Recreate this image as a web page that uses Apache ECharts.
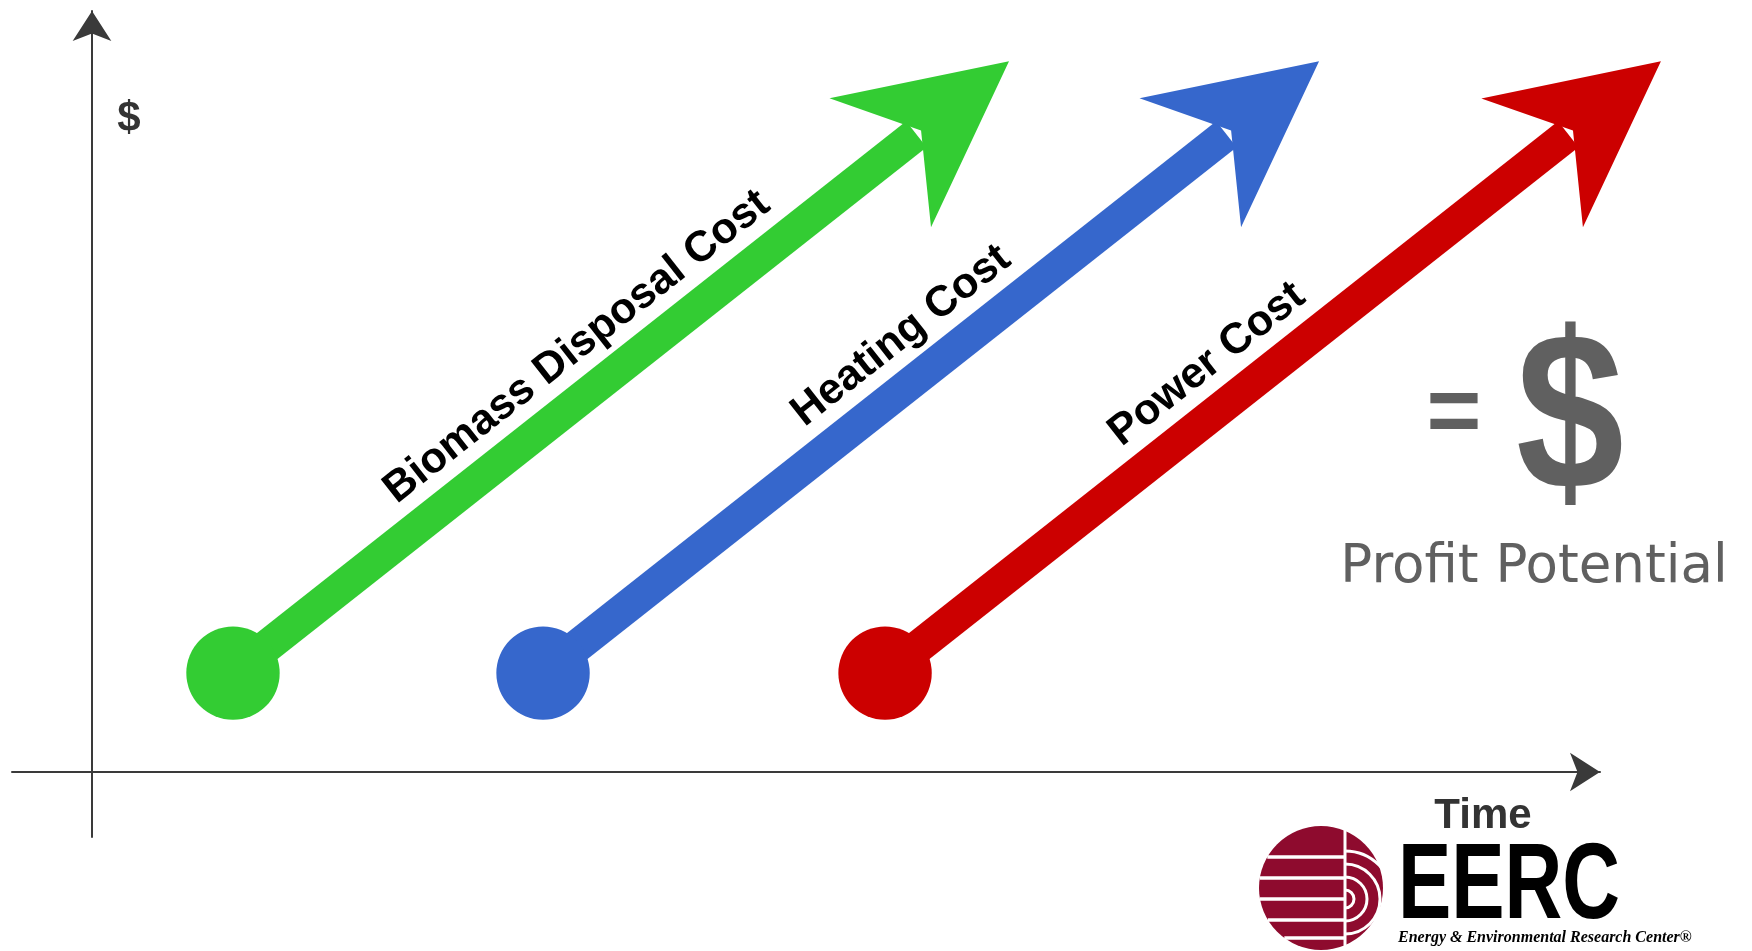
<!DOCTYPE html>
<html><head><meta charset="utf-8">
<script src="https://cdn.jsdelivr.net/npm/echarts@6/dist/echarts.min.js"></script>
<style>html,body{margin:0;padding:0;background:#fff}#c{width:1752px;height:951px}</style>
</head><body><div id="c"></div>
<script>
// ---- data ----
const categories = ['Biomass Disposal Cost', 'Heating Cost', 'Power Cost'];
const startTime = [0.935, 2.991, 5.259];
const startCost = [1.30, 1.30, 1.30];
const endTime = [6.081, 8.137, 10.404];
const endCost = [9.34, 9.34, 9.34];
const xAxisName = 'Time';
const yAxisName = '$';
const resultSign = '=';
const resultSymbol = '$';
const resultLabel = 'Profit Potential';
const logoText = 'EERC';
const logoSub = 'Energy & Environmental Research Center\u00AE';

// ---- styles ----
const colors = ['#33cc33', '#3667cc', '#cc0000'];
const labelAlong = [472, 490, 444];   // px from start point along arrow
const labelOffset = 43;               // px perpendicular above arrow
const axisColor = '#3a3a3a';

const seriesData = categories.map((c, i) => [startTime[i], startCost[i], endTime[i], endCost[i], i]);

function renderArrow(params, api) {
  const i = api.value(4);
  const s = api.coord([api.value(0), api.value(1)]);
  const e = api.coord([api.value(2), api.value(3)]);
  const dx = e[0] - s[0], dy = e[1] - s[1];
  const L = Math.hypot(dx, dy);
  const ux = dx / L, uy = dy / L;
  const nx = uy, ny = -ux;
  const back = 164, half = 82, notch = 112, shaftHalf = 16.5, r = 46.7;
  const bx = e[0] - ux * back, by = e[1] - uy * back;
  const head = [
    [e[0], e[1]],
    [bx + nx * half, by + ny * half],
    [e[0] - ux * notch, e[1] - uy * notch],
    [bx - nx * half, by - ny * half]
  ];
  const se = [e[0] - ux * 118, e[1] - uy * 118];
  const shaft = [
    [s[0] + nx * shaftHalf, s[1] + ny * shaftHalf],
    [se[0] + nx * shaftHalf, se[1] + ny * shaftHalf],
    [se[0] - nx * shaftHalf, se[1] - ny * shaftHalf],
    [s[0] - nx * shaftHalf, s[1] - ny * shaftHalf]
  ];
  const col = colors[i];
  const la = labelAlong[i];
  return {
    type: 'group',
    children: [
      { type: 'polygon', shape: { points: shaft }, style: { fill: col } },
      { type: 'polygon', shape: { points: head }, style: { fill: col } },
      { type: 'circle', shape: { cx: s[0], cy: s[1], r: r }, style: { fill: col } },
      {
        type: 'text',
        x: s[0] + ux * la + nx * labelOffset,
        y: s[1] + uy * la + ny * labelOffset,
        rotation: Math.atan2(-dy, dx),
        style: {
          text: categories[i], fill: '#000',
          font: 'bold 43px "Liberation Sans", Arial, sans-serif',
          align: 'center', verticalAlign: 'middle'
        }
      }
    ]
  };
}

// EERC logo pieces
const lcx = 1321, lcy = 888, lr = 62, vline = 1345;
const logoChildren = [{ type: 'circle', shape: { cx: lcx, cy: lcy, r: lr }, style: { fill: '#8e0b2e' } }];
[857, 878, 899, 920, 938].forEach(y => {
  const hc = Math.sqrt(Math.max(0, lr * lr - (y - lcy) * (y - lcy)));
  logoChildren.push({ type: 'rect', shape: { x: lcx - hc, y: y - 1.8, width: vline - (lcx - hc), height: 3.6 }, style: { fill: '#fff' } });
});
logoChildren.push({ type: 'rect', shape: { x: vline - 1.5, y: lcy - lr + 2, width: 3, height: 2 * lr - 4 }, style: { fill: '#fff' } });
[9, 22, 35, 48].forEach(rad => {
  logoChildren.push({ type: 'arc', shape: { cx: vline, cy: 899, r: rad, startAngle: -Math.PI / 2, endAngle: Math.PI / 2 }, style: { stroke: '#fff', lineWidth: 3, fill: null } });
});

const chart = echarts.init(document.getElementById('c'), null, { renderer: 'canvas' });
chart.setOption({
  animation: false,
  backgroundColor: '#fff',
  grid: { left: 12, top: 11, width: 1588, height: 826 },
  xAxis: {
    type: 'value', min: -0.5305, max: 10,
    axisLine: { show: true, onZero: true, symbol: ['none', 'arrow'], symbolSize: [29, 30], lineStyle: { color: axisColor, width: 2 } },
    axisTick: { show: false }, axisLabel: { show: false }, splitLine: { show: false }
  },
  yAxis: {
    type: 'value', min: -0.854, max: 10,
    axisLine: { show: true, onZero: true, symbol: ['none', 'arrow'], symbolSize: [29, 30], lineStyle: { color: axisColor, width: 2 } },
    axisTick: { show: false }, axisLabel: { show: false }, splitLine: { show: false }
  },
  series: [{
    type: 'custom',
    coordinateSystem: 'cartesian2d',
    renderItem: renderArrow,
    data: seriesData,
    clip: false,
    silent: true
  }],
  graphic: [
    { type: 'text', x: 129, y: 119, style: { text: yAxisName, fill: '#333', font: 'bold 42px "Liberation Sans", Arial, sans-serif', align: 'center', verticalAlign: 'middle' } },
    { type: 'text', x: 1483, y: 816, style: { text: xAxisName, fill: '#333', font: 'bold 42px "Liberation Sans", Arial, sans-serif', align: 'center', verticalAlign: 'middle' } },
    { type: 'text', x: 1454, y: 416, style: { text: resultSign, fill: '#606060', font: 'bold 94px "Liberation Sans", Arial, sans-serif', align: 'center', verticalAlign: 'middle' } },
    { type: 'text', x: 1570, y: 426, scaleY: 1.16, style: { text: resultSymbol, fill: '#606060', font: 'bold 194px "Liberation Sans", Arial, sans-serif', align: 'center', verticalAlign: 'middle' } },
    { type: 'text', x: 1534, y: 568, style: { text: resultLabel, fill: '#606060', font: '53px "DejaVu Sans", sans-serif', align: 'center', verticalAlign: 'middle' } },
    { type: 'group', children: logoChildren },
    { type: 'text', x: 1398, y: 888, scaleX: 0.74, style: { text: logoText, fill: '#000', font: 'bold 108px "Liberation Sans", Arial, sans-serif', align: 'left', verticalAlign: 'middle' } },
    { type: 'text', x: 1398, y: 938, style: { text: logoSub, fill: '#000', font: 'italic bold 16px "Liberation Serif", serif', align: 'left', verticalAlign: 'middle' } }
  ]
});
</script>
</body></html>
